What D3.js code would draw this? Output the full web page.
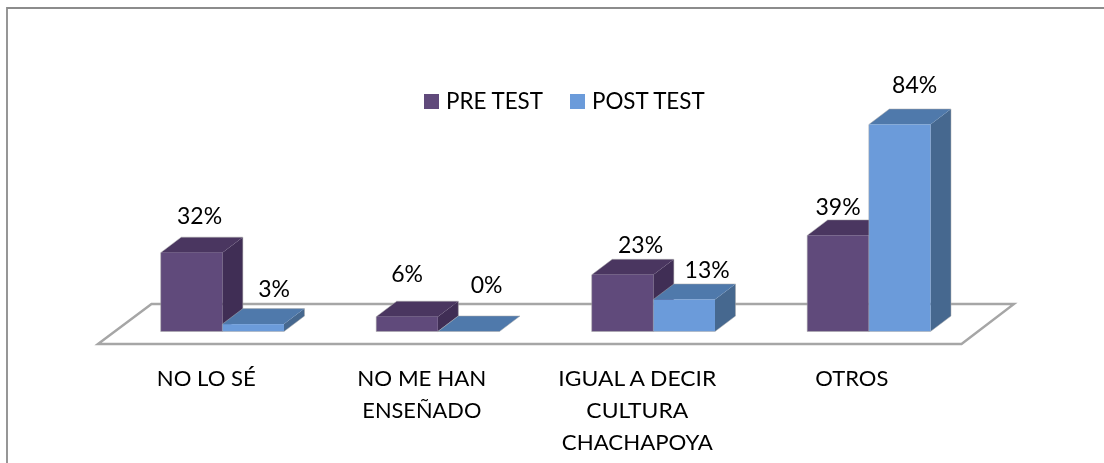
<!DOCTYPE html>
<html><head><meta charset="utf-8">
<script src="https://cdnjs.cloudflare.com/ajax/libs/d3/7.8.5/d3.min.js"></script>
<style>html,body{margin:0;background:#fff}svg{display:block;filter:blur(0.35px)}text{font-family:Lato,"Open Sans",sans-serif;fill:#000}</style>
</head><body><svg id="c" width="1104" height="463"></svg>
<script>
const categories = ["NO LO SÉ", "NO ME HAN|ENSEÑADO", "IGUAL A DECIR|CULTURA|CHACHAPOYA", "OTROS"];
const seriesNames = ["PRE TEST", "POST TEST"];
const preTest = [32, 6, 23, 39];
const postTest = [3, 0, 13, 84];
const categoryLabelShift = [-16, -16, -16, -17];
const categoryLineWidths = [[99], [129, 119], [158, 102, 151], [73]];
const preLabelShift = [[8, -29], [0, -35], [18, -22], [0, -20]];
const postLabelShift = [[21, -27], [18, -39], [23, -21], [15, -32]];
const colors = [{f:"#604a7b",t:"#4a3660",s:"#402e55"},{f:"#6b9bda",t:"#4f79ab",s:"#46688f"}];

const svg = d3.select("#c");
const x = d3.scaleBand().domain(categories).range([114.6, 976.6]).paddingInner(0.428).paddingOuter(0.214);
const xs = d3.scaleBand().domain(seriesNames).range([0, x.bandwidth()]);
const y = d3.scaleLinear().domain([0, 84]).range([331.5, 124.5]);
const dx = 20.5, dy = -15.5;
const poly = p => p.map(d => d.join(",")).join(" ");

svg.append("path").attr("d","M7,463V8H1104").attr("fill","none").attr("stroke","#8c8c8c").attr("stroke-width",1.8);
svg.append("polygon").attr("points",poly([[98,344],[151.5,304],[1014,304],[961.5,344]]))
  .attr("fill","#fff").attr("stroke","#a6a6a6").attr("stroke-width",2.4);

const rows = [];
categories.forEach((c,i) => seriesNames.forEach((s,j) => rows.push({c,s,j,v:[preTest,postTest][j][i],sh:[preLabelShift,postLabelShift][j][i]})));
const g = svg.selectAll("g.bar").data(rows).join("g").attr("class","bar");
g.each(function(d){
  const sel = d3.select(this), x0 = x(d.c)+xs(d.s), w = xs.bandwidth(), x1 = x0+w, yT = y(d.v), yB = y(0), col = colors[d.j];
  sel.append("polygon").attr("points",poly([[x1,yT],[x1+dx,yT+dy],[x1+dx,yB+dy],[x1,yB]])).attr("fill",col.s);
  sel.append("polygon").attr("points",poly([[x0,yT],[x0+dx,yT+dy],[x1+dx,yT+dy],[x1,yT]])).attr("fill",col.t);
  if (d.v>0) sel.append("rect").attr("x",x0).attr("y",yT).attr("width",w).attr("height",yB-yT).attr("fill",col.f);
  sel.append("polygon").attr("points",poly([[x0,yB],[x0,yT],[x0+dx,yT+dy],[x1+dx,yT+dy],[x1+dx,yB+dy],[x1,yB]]))
    .attr("fill","none").attr("stroke","#a9a9a9").attr("stroke-opacity",.5).attr("stroke-width",1);
});
g.append("text").attr("x",d=>x(d.c)+xs(d.s)+xs.bandwidth()/2+d.sh[0]).attr("y",d=>y(d.v)+d.sh[1])
  .attr("text-anchor","middle").attr("font-size",23).text(d=>d.v+"%");

categories.forEach((c,i)=>{
  c.split("|").forEach((l,k)=>{
    const w = categoryLineWidths[i][k], cx = x(c)+x.bandwidth()/2+categoryLabelShift[i];
    svg.append("text").attr("font-size",22).attr("x",cx-w/2).attr("y",385.5+k*32)
      .attr("textLength",w).attr("lengthAdjust","spacingAndGlyphs").text(l);
  });
});

const lg = svg.selectAll("g.lg").data(seriesNames).join("g").attr("class","lg");
const lgX = d3.scaleOrdinal().domain(seriesNames).range([424,570]);
lg.append("rect").attr("x",d=>lgX(d)).attr("y",94).attr("width",15).attr("height",15).attr("fill",(d,i)=>colors[i].f);
lg.append("text").attr("x",d=>lgX(d)+22).attr("y",108.5).attr("font-size",22.4).text(d=>d);
</script></body></html>
